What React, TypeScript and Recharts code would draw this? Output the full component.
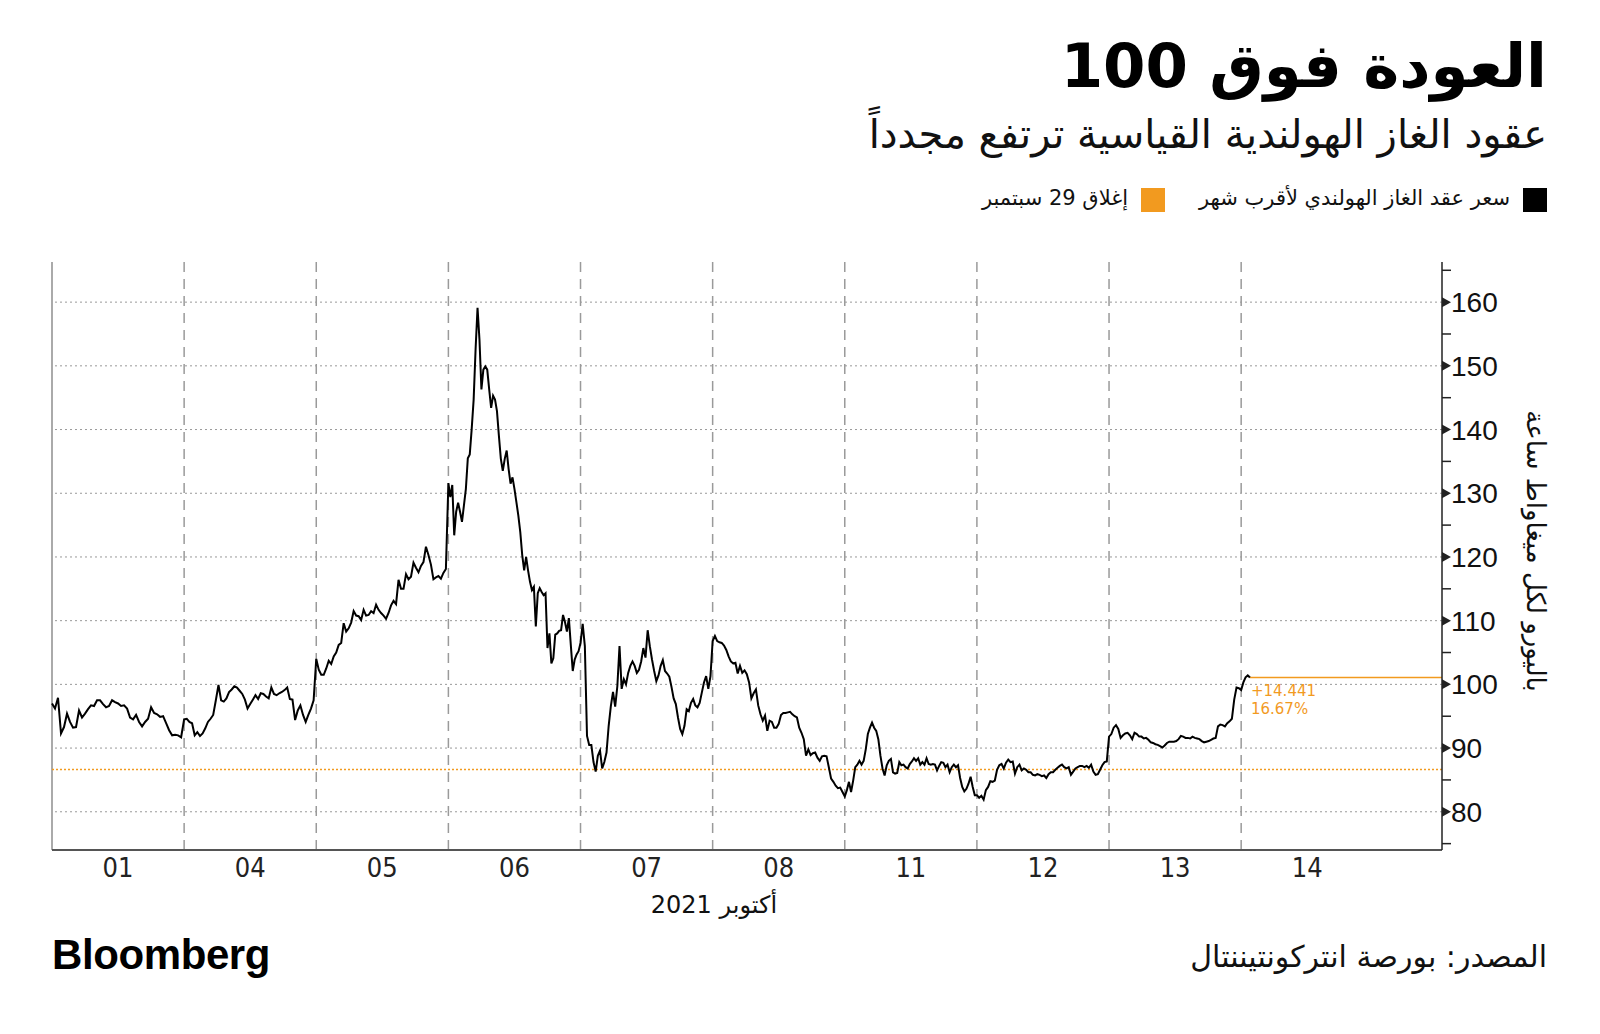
import { LineChart, Line, XAxis, YAxis, ReferenceLine, ReferenceDot } from "recharts";

// trading days, October 2021
const days = ["01", "04", "05", "06", "07", "08", "11", "12", "13", "14"];

// front-month Dutch TTF gas, EUR/MWh, intraday readings per session
const day01 = [97.0, 96.2, 97.9, 92.3, 93.3, 95.4, 94.1, 93.2, 93.3, 95.9, 94.8, 95.4, 96.1, 96.7, 96.6, 97.5, 97.5, 96.9, 96.4, 96.6, 97.5, 97.2, 97.0, 96.6, 96.7, 96.2, 94.8, 94.5, 95.2, 94.1, 93.4, 94.1, 94.6, 96.4, 95.5, 95.3, 94.9, 95.0, 93.9, 92.8, 92.0, 92.1, 92.0, 91.7];
const day04 = [94.5, 94.6, 94.1, 93.9, 92.0, 92.5, 91.9, 92.3, 93.1, 94.1, 94.6, 95.2, 97.5, 99.9, 97.5, 97.3, 97.8, 98.8, 99.2, 99.7, 99.5, 99.0, 98.5, 97.6, 96.2, 96.9, 97.6, 98.3, 97.7, 98.6, 98.5, 98.1, 97.8, 99.5, 98.5, 98.3, 98.6, 98.8, 99.1, 99.5, 97.7, 97.6, 94.4, 95.9, 96.7, 95.2, 94.1, 95.2, 96.2, 97.5];
const day05 = [104.0, 102.3, 101.5, 101.5, 102.5, 103.7, 103.2, 104.4, 105.0, 106.2, 106.5, 109.6, 108.3, 108.8, 109.7, 111.5, 110.8, 110.7, 110.1, 111.7, 110.8, 110.9, 111.5, 111.2, 112.5, 111.7, 111.2, 110.8, 110.3, 111.2, 112.4, 113.1, 112.6, 116.4, 115.0, 115.0, 117.3, 116.5, 116.9, 119.1, 118.3, 117.6, 118.6, 119.2, 121.6, 120.3, 118.8, 116.5, 116.8, 117.0, 116.6, 117.5, 118.1];
const day06 = [131.6, 129.4, 131.3, 123.4, 127.1, 128.5, 127.1, 125.5, 128.1, 130.7, 135.5, 136.1, 140.1, 144.7, 152.6, 159.1, 154.1, 146.3, 149.4, 149.9, 149.4, 146.3, 143.4, 145.3, 144.7, 142.9, 139.0, 135.4, 133.5, 135.4, 136.7, 133.8, 131.5, 132.5, 130.7, 128.6, 126.5, 123.9, 120.3, 117.9, 120.0, 117.9, 116.1, 114.8, 115.3, 109.1, 114.3, 115.1, 114.5, 114.0, 114.3, 105.7, 108.0, 103.3, 104.1, 107.8, 108.0, 108.4, 108.5, 110.9, 109.8, 108.3, 110.4, 106.2, 102.1, 103.9, 104.7, 105.2];
const day07 = [106.5, 109.5, 106.0, 91.9, 90.5, 90.5, 87.8, 86.3, 88.8, 89.6, 86.8, 87.8, 89.3, 93.5, 96.6, 98.8, 96.5, 99.7, 106.0, 99.3, 100.8, 100.0, 101.8, 102.9, 103.6, 102.9, 101.8, 102.3, 103.6, 105.7, 104.2, 108.5, 106.0, 103.9, 102.1, 100.5, 101.4, 102.9, 103.8, 102.1, 101.7, 101.2, 99.6, 97.8, 96.9, 94.8, 93.0, 92.2, 93.5, 96.1, 95.8, 97.1, 97.7, 96.7, 96.4, 97.1, 98.7, 100.3, 101.3, 99.3, 101.3];
const day08 = [106.8, 107.6, 106.8, 106.6, 106.5, 106.1, 105.4, 104.4, 103.6, 103.3, 103.4, 101.7, 102.9, 101.8, 102.2, 101.6, 100.3, 97.8, 98.6, 99.2, 96.7, 95.3, 94.3, 95.1, 92.7, 94.3, 94.1, 93.2, 93.2, 93.8, 95.2, 95.5, 95.5, 95.6, 95.7, 95.3, 95.0, 94.8, 93.2, 92.4, 91.4, 88.8, 89.8, 88.9, 89.2, 89.3, 88.5, 88.0, 88.7, 88.8, 88.7, 87.0, 85.2, 84.7, 84.1, 83.7, 83.8, 83.1];
const day11 = [82.4, 83.4, 84.7, 83.1, 84.9, 87.0, 87.4, 88.0, 87.4, 88.0, 89.8, 92.2, 93.2, 94.0, 93.2, 92.7, 91.4, 88.8, 86.8, 85.7, 87.3, 88.0, 88.3, 86.2, 86.0, 86.1, 87.8, 87.3, 87.4, 87.0, 86.8, 87.5, 87.9, 88.4, 88.0, 88.4, 87.4, 87.8, 87.4, 88.4, 87.5, 87.4, 87.5, 87.4, 86.5, 87.2, 87.8, 87.7, 87.0, 87.4, 86.2, 87.0, 87.4, 87.0, 87.3, 85.3, 83.9, 83.2, 83.6, 84.4, 85.5, 83.9, 82.6];
const day12 = [82.6, 82.2, 82.5, 81.9, 83.4, 83.9, 84.8, 84.7, 84.9, 86.6, 87.3, 87.5, 86.8, 87.7, 88.2, 87.8, 87.9, 86.0, 87.0, 87.4, 86.5, 86.8, 86.6, 86.2, 86.2, 85.8, 85.7, 85.9, 85.8, 85.6, 85.7, 85.3, 85.9, 86.2, 86.2, 86.6, 86.9, 87.2, 87.4, 87.0, 86.8, 87.0, 85.8, 86.3, 86.8, 87.0, 87.2, 87.2, 87.0, 87.2, 86.9, 87.4, 86.3, 85.8, 85.9, 86.6, 87.3, 87.8, 87.9];
const day13 = [91.8, 92.2, 93.2, 93.6, 93.0, 91.6, 92.0, 92.3, 92.4, 92.0, 91.4, 92.4, 92.2, 91.8, 91.8, 91.5, 91.6, 91.3, 90.9, 90.8, 90.6, 90.5, 90.3, 90.1, 90.4, 90.8, 91.0, 91.0, 91.0, 91.1, 91.4, 91.9, 91.8, 91.6, 91.6, 91.5, 91.8, 91.6, 91.5, 91.4, 91.1, 90.9, 91.0, 91.1, 91.3, 91.5, 91.6, 93.4, 93.7, 93.6, 93.4, 93.9, 94.2, 94.6, 97.6, 99.5, 99.4];
const day14 = [99.1, 100.3, 101.1, 101.4, 101.07];

const dayPrices = [day01, day04, day05, day06, day07, day08, day11, day12, day13, day14];

const closeSep29 = 86.629;
const barsPerDay = 60; // spacing for the session still in progress
const yTicks = [75, 80, 85, 90, 95, 100, 105, 110, 115, 120, 125, 130, 135, 140, 145, 150, 155, 160, 165];
const gridValues = [80, 90, 100, 110, 120, 130, 140, 150, 160];

const ORANGE = "#f29a1f";
const AR_FONT = "'DejaVu Sans', 'Noto Sans', sans-serif";
const NUM_FONT = "'Liberation Sans Narrow', 'DejaVu Sans Condensed', sans-serif";

const xMax = 10.52;

const data = dayPrices.flatMap((prices, d) => {
  const live = d === dayPrices.length - 1;
  return prices.map((price, i) => ({
    x: d + (live ? i / barsPerDay : i / prices.length),
    price,
  }));
});

const lastPoint = data[data.length - 1];
const change = lastPoint.price - closeSep29;
const changeLabel = "+" + change.toFixed(3);
const pctLabel = ((change / closeSep29) * 100).toFixed(2) + "%";

const YTick = (props: any) => {
  const { x, y, payload } = props;
  const v = payload.value;
  if (v % 10 !== 0) {
    return <line x1={x} x2={x + 9} y1={y} y2={y} stroke="#222" strokeWidth={1.5} />;
  }
  return (
    <g>
      <path d={`M${x},${y - 5}L${x + 9},${y}L${x},${y + 5}Z`} fill="#222" />
      <text x={x + 9} y={y} dy="0.36em" fontSize={28} fontFamily="'Liberation Sans', sans-serif" fill="#111">
        {v}
      </text>
    </g>
  );
};

const EndNote = (props: any) => {
  const { cx, cy } = props;
  return (
    <g fill={ORANGE} fontSize={15} fontFamily="'DejaVu Sans', sans-serif">
      <text x={cx + 1} y={cy + 18}>{changeLabel}</text>
      <text x={cx + 1} y={cy + 36}>{pctLabel}</text>
    </g>
  );
};

const abs = (style: any) => ({ position: "absolute" as const, whiteSpace: "nowrap" as const, ...style });

export default function App() {
  return (
    <div style={{ position: "absolute", left: 0, top: 0, width: 1600, height: 1034, background: "#fff", overflow: "hidden" }}>
      <div dir="rtl" style={abs({ right: 53, top: 30, fontFamily: AR_FONT, fontWeight: 700, fontSize: 61, color: "#000" })}>
        العودة فوق 100
      </div>
      <div dir="rtl" style={abs({ right: 53, top: 111, fontFamily: AR_FONT, fontSize: 40, color: "#111" })}>
        عقود الغاز الهولندية القياسية ترتفع مجدداً
      </div>

      <div style={abs({ left: 1523, top: 188, width: 24, height: 24, background: "#000" })} />
      <div dir="rtl" style={abs({ right: 90, top: 186, fontFamily: AR_FONT, fontSize: 21, color: "#111" })}>
        سعر عقد الغاز الهولندي لأقرب شهر
      </div>
      <div style={abs({ left: 1141, top: 188, width: 24, height: 24, background: ORANGE })} />
      <div dir="rtl" style={abs({ right: 472, top: 186, fontFamily: AR_FONT, fontSize: 21, color: "#111" })}>
        إغلاق 29 سبتمبر
      </div>

      <div style={{ position: "absolute", left: 0, top: 0 }}>
        <LineChart width={1600} height={1034} data={data} margin={{ top: 262, left: 52, right: 58, bottom: 144 }}>
          {gridValues.map((v) => (
            <ReferenceLine key={"h" + v} y={v} stroke="#999" strokeDasharray="2 3" strokeWidth={1} />
          ))}
          {days.slice(1).map((_, i) => (
            <ReferenceLine key={"v" + i} x={i + 1} stroke="#9a9a9a" strokeDasharray="10 7" strokeWidth={1.5} />
          ))}
          <ReferenceLine x={0} stroke="#aaa" strokeWidth={2} />
          <ReferenceLine y={closeSep29} stroke={ORANGE} strokeDasharray="2 2" strokeWidth={1.5} />
          <ReferenceLine
            segment={[{ x: lastPoint.x, y: lastPoint.price }, { x: xMax, y: lastPoint.price }]}
            stroke={ORANGE}
            strokeWidth={1.5}
          />
          <XAxis
            dataKey="x"
            type="number"
            domain={[0, xMax]}
            ticks={days.map((_, i) => i + 0.5)}
            interval={0}
            tickFormatter={(v: number) => days[Math.floor(v)]}
            height={40}
            axisLine={{ stroke: "#555", strokeWidth: 2 }}
            tickLine={false}
            tickSize={0}
            tickMargin={8}
            tick={{ fontSize: 27, fill: "#222", fontFamily: NUM_FONT }}
          />
          <YAxis
            orientation="right"
            type="number"
            domain={[74, 166.3]}
            ticks={yTicks}
            interval={0}
            width={100}
            axisLine={{ stroke: "#222", strokeWidth: 1.5 }}
            tickLine={false}
            tickSize={0}
            tickMargin={0}
            tick={<YTick />}
          />
          <Line
            type="linear"
            dataKey="price"
            stroke="#000"
            strokeWidth={2}
            dot={false}
            isAnimationActive={false}
          />
          <ReferenceDot x={lastPoint.x} y={lastPoint.price} r={0} shape={<EndNote />} />
        </LineChart>
      </div>

      <div
        dir="rtl"
        style={abs({
          left: 1536,
          top: 551,
          transform: "translate(-50%, -50%) rotate(90deg)",
          fontFamily: AR_FONT,
          fontSize: 26,
          color: "#111",
        })}
      >
        باليورو لكل ميغاواط ساعة
      </div>

      <div dir="rtl" style={abs({ left: 714, top: 905, transform: "translate(-50%, -50%)", fontFamily: AR_FONT, fontSize: 24, color: "#111" })}>
        أكتوبر 2021
      </div>

      <div style={abs({ left: 52, top: 931, fontFamily: "'Liberation Sans', sans-serif", fontWeight: 700, fontSize: 42, letterSpacing: -0.4, color: "#000" })}>
        Bloomberg
      </div>
      <div dir="rtl" style={abs({ right: 53, top: 939, fontFamily: AR_FONT, fontSize: 30, color: "#111" })}>
        المصدر: بورصة انتركونتيننتال
      </div>
    </div>
  );
}
